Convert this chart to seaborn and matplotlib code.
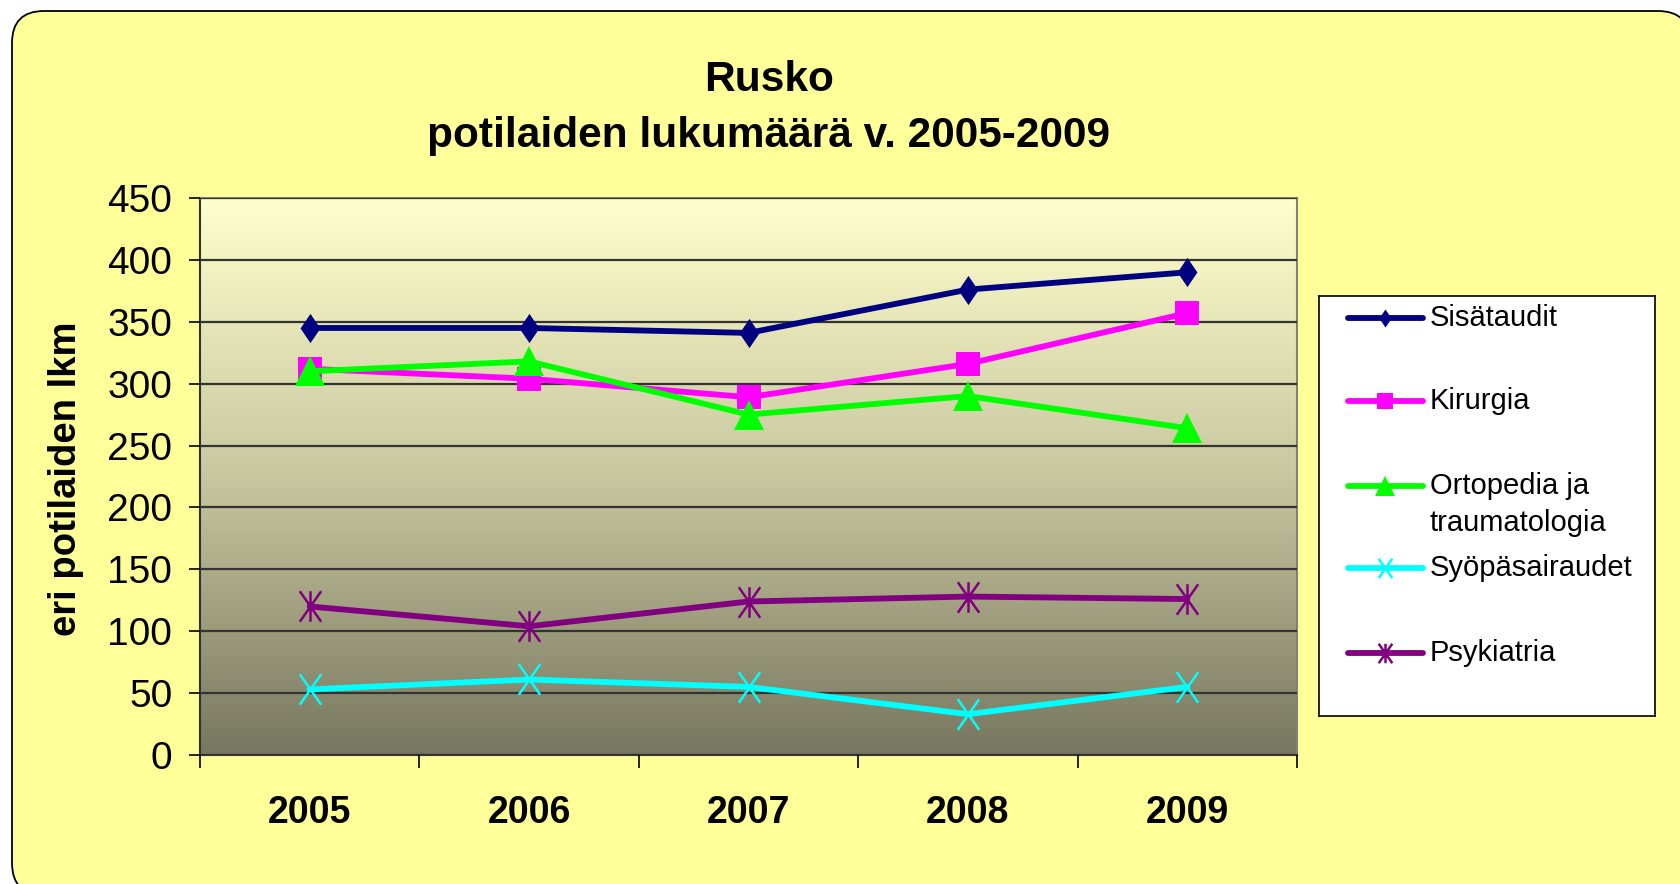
import numpy as np
import pandas as pd
import matplotlib
matplotlib.use("Agg")
import matplotlib.pyplot as plt
import seaborn as sns
from matplotlib.path import Path
from matplotlib.patches import FancyBboxPatch
from matplotlib.colors import LinearSegmentedColormap

years = ["2005", "2006", "2007", "2008", "2009"]
sisataudit = [345, 345, 341, 376, 390]
kirurgia = [312, 304, 289, 316, 357]
ortopedia = [310, 318, 275, 290, 264]
syopa = [53, 61, 55, 33, 55]
psykiatria = [120, 104, 124, 128, 126]

series_names = ["Sisätaudit", "Kirurgia", "Ortopedia ja\ntraumatologia",
                "Syöpäsairaudet", "Psykiatria"]
series_values = [sisataudit, kirurgia, ortopedia, syopa, psykiatria]

sns.set_style("ticks")
plt.rcParams["font.family"] = ["Liberation Sans", "DejaVu Sans"]
plt.rcParams["text.color"] = "black"
plt.rcParams["xtick.color"] = "black"
plt.rcParams["ytick.color"] = "black"

# marker shapes
diamond = Path([(0, 1), (0.68, 0), (0, -1), (-0.68, 0), (0, 1)],
               [Path.MOVETO, Path.LINETO, Path.LINETO, Path.LINETO, Path.CLOSEPOLY])
xmark = Path([(-0.7, -1), (0.7, 1), (-0.7, 1), (0.7, -1)],
             [Path.MOVETO, Path.LINETO, Path.MOVETO, Path.LINETO])
starmark = Path([(-0.7, -1), (0.7, 1), (-0.7, 1), (0.7, -1), (0, -1), (0, 1)],
                [Path.MOVETO, Path.LINETO, Path.MOVETO, Path.LINETO,
                 Path.MOVETO, Path.LINETO])

styles = [
    dict(color="#000080", marker=diamond, ms=21, leg_ms=13, mew=0),
    dict(color="#FF00FF", marker="s", ms=17, leg_ms=11, mew=0),
    dict(color="#00FF00", marker="^", ms=21, leg_ms=14, mew=0),
    dict(color="#00FFFF", marker=xmark, ms=22, leg_ms=14, mew=1.8),
    dict(color="#800080", marker=starmark, ms=22, leg_ms=14, mew=1.8),
]

W, H = 1680, 884
fig = plt.figure(figsize=(W / 100, H / 100), dpi=100, facecolor="white")

# rounded yellow chart area
frame = FancyBboxPatch((12, -11), 1678, 884,
                       boxstyle="round,pad=0,rounding_size=32",
                       facecolor="#FFFF99", edgecolor="black", lw=1.3,
                       transform=None, zorder=-5)
fig.patches.append(frame)

ax = fig.add_axes([200 / W, 1 - 755 / H, (1297 - 200) / W, (755 - 198) / H])
ax.set_facecolor("none")

# gradient background of plot area
cmap = LinearSegmentedColormap.from_list("bg", ["#77775F", "#C8C7A0", "#FFFFCC"])
grad = np.linspace(0, 1, 256).reshape(-1, 1)
ax.imshow(grad, extent=(-0.5, 4.5, 0, 450), origin="lower", aspect="auto",
          cmap=cmap, zorder=0)

xpos = np.arange(len(years))
for name, vals, st in zip(series_names, series_values, styles):
    df = pd.DataFrame({"x": xpos, "y": vals})
    sns.lineplot(data=df, x="x", y="y", ax=ax, color=st["color"], lw=4.2,
                 marker=st["marker"], markersize=st["ms"],
                 markeredgecolor=st["color"], markerfacecolor=st["color"],
                 markeredgewidth=st["mew"], sort=False, zorder=3)

ax.set_xlim(-0.5, 4.5)
ax.set_ylim(0, 450)
ax.set_yticks(range(0, 451, 50))
ax.yaxis.grid(True, color="#333333", lw=1.6, zorder=1)
ax.set_axisbelow(False)
for gl in ax.get_ygridlines():
    gl.set_zorder(1)
ax.tick_params(axis="y", length=8, width=1.2, labelsize=28, pad=12, colors="black")
ax.set_xticks(np.arange(-0.5, 4.6, 1.0))
ax.set_xticklabels([])
ax.set_xticks(xpos, minor=True)
ax.set_xticklabels(years, minor=True, fontsize=27, fontweight="bold",
                   family=["Liberation Sans Narrow", "Liberation Sans"])
ax.tick_params(axis="x", which="major", length=9, width=1.2, direction="out")
ax.tick_params(axis="x", which="minor", length=0, pad=29)
ax.set_xlabel("")
ax.set_ylabel("")
for s in ["top", "right"]:
    ax.spines[s].set_color("#808080")
    ax.spines[s].set_linewidth(1.5)
for s in ["left", "bottom"]:
    ax.spines[s].set_color("#333333")
    ax.spines[s].set_linewidth(1.5)

fig.text(66 / W, 1 - 479 / H, "eri potilaiden lkm", rotation=90,
         ha="center", va="center", fontsize=27.5, fontweight="bold")
fig.text(769 / W, 1 - 80 / H, "Rusko", ha="center", va="center",
         fontsize=30.5, fontweight="bold")
fig.text(769 / W, 1 - 136 / H, "potilaiden lukumäärä v. 2005-2009",
         ha="center", va="center", fontsize=30.5, fontweight="bold")

# legend box drawn in its own pixel-based axes
lax = fig.add_axes([1319 / W, 1 - 716 / H, 336 / W, 420 / H])
lax.set_xlim(0, 336)
lax.set_ylim(420, 0)
lax.set_xticks([])
lax.set_yticks([])
lax.set_facecolor("white")
for s in lax.spines.values():
    s.set_color("black")
    s.set_linewidth(1.2)
entry_y = [22, 105, 190, 272, 357]
for name, st, yy in zip(series_names, styles, entry_y):
    lax.plot([29, 104], [yy, yy], color=st["color"], lw=4.2,
             solid_capstyle="round")
    lax.plot([66], [yy], marker=st["marker"], ms=st["leg_ms"],
             color=st["color"], mec=st["color"], mew=st["mew"])
    lines = name.split("\n")
    for i, ln in enumerate(lines):
        lax.text(111, yy + i * 37, ln, fontsize=21, va="center", ha="left")

fig.savefig("out.png", dpi=100, facecolor="white")
